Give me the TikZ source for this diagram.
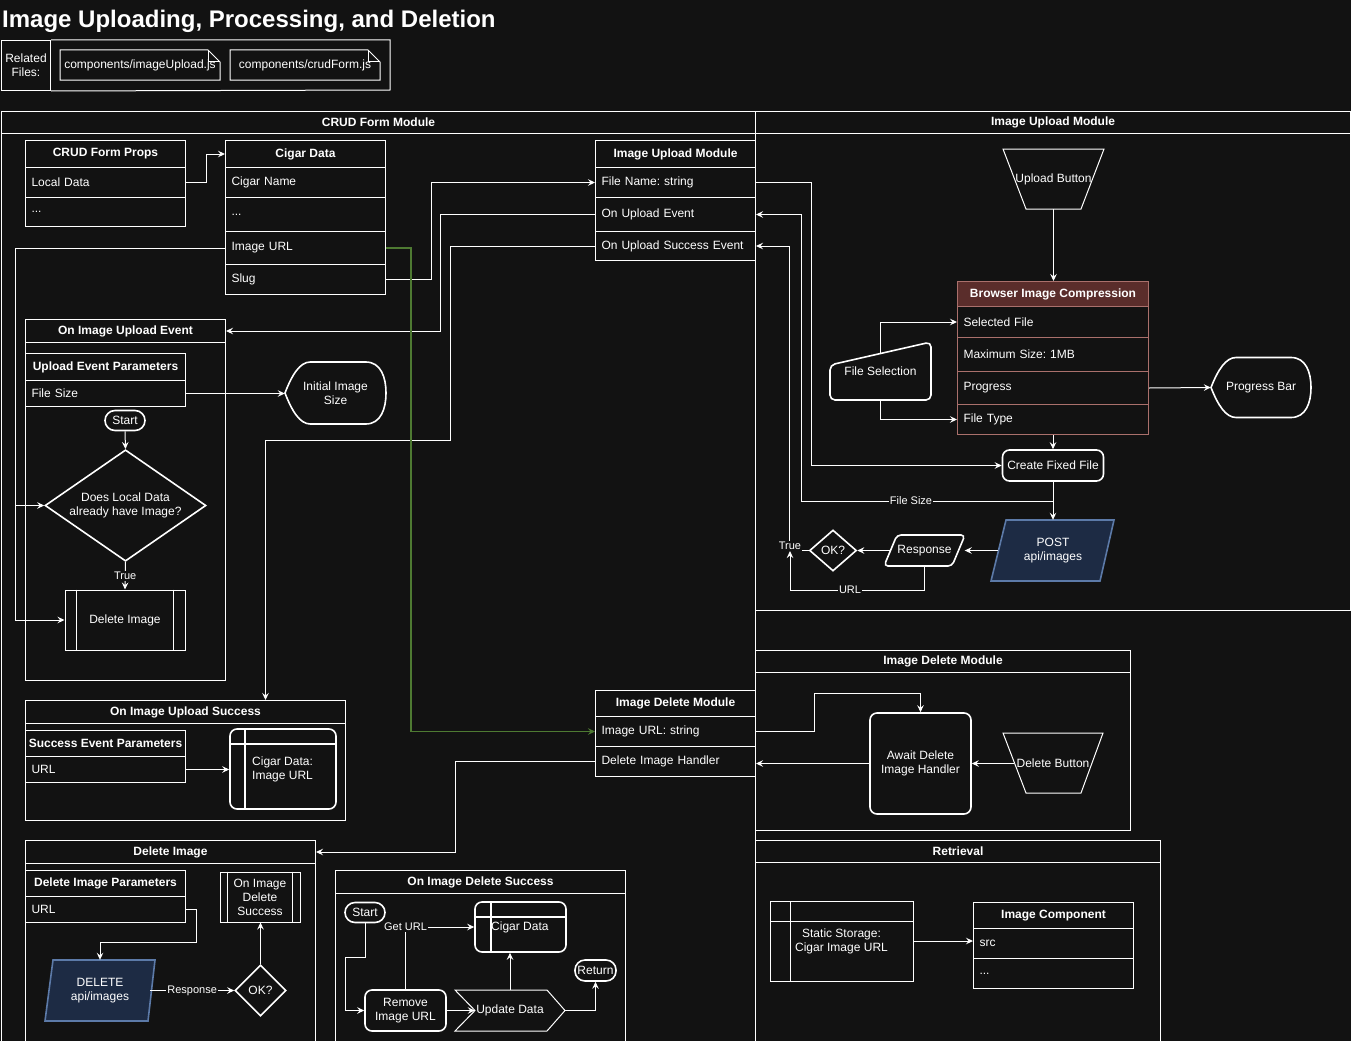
\documentclass[tikz,border=0pt]{standalone}
\usepackage{fontspec}
\setmainfont{Liberation Sans}
\usetikzlibrary{arrows.meta,shapes.geometric}
\frenchspacing
\definecolor{bgc}{RGB}{18,18,18}
\definecolor{bluefill}{RGB}{29,43,68}
\definecolor{bluestroke}{RGB}{92,122,168}
\definecolor{brownfill}{RGB}{90,45,43}
\definecolor{brownstroke}{RGB}{170,112,108}
\definecolor{greenline}{RGB}{78,122,50}
\newcommand{\dispsh}[4]{%
 \draw[draw=white, line width=1.6pt] (#1,#2+#4/2) .. controls (#1+0.07*#3,#2+0.2*#4) and (#1+0.15*#3,#2) .. (#1+0.25*#3,#2) -- (#1+0.8*#3,#2) .. controls (#1+0.95*#3,#2) and (#1+#3,#2+0.25*#4) .. (#1+#3,#2+#4/2) .. controls (#1+#3,#2+0.75*#4) and (#1+0.95*#3,#2+#4) .. (#1+0.8*#3,#2+#4) -- (#1+0.25*#3,#2+#4) .. controls (#1+0.15*#3,#2+#4) and (#1+0.07*#3,#2+0.8*#4) .. (#1,#2+#4/2) -- cycle;}
\tikzset{
 base/.style={font=\fontsize{12}{14}\selectfont, text=white},
 bbase/.style={font=\fontsize{12}{14}\selectfont\bfseries, text=white},
 ln/.style={draw=white, line width=1pt},
 arr/.style={draw=white, line width=1pt, -{Stealth[length=7pt,width=6.5pt,inset=2.5pt]}},
 rowc/.style={base, draw=white, line width=1pt, anchor=north west, inner sep=0pt, minimum width=160pt, text width=148pt, align=left},
 hcell/.style={bbase, draw=white, line width=1pt, anchor=north west, inner sep=0pt, minimum width=160pt, align=center},
 lanehdr/.style={bbase, draw=white, line width=1pt, anchor=north west, inner sep=0pt, minimum height=22pt},
 termn/.style={base, draw=white, line width=1.6pt, rounded corners=10pt, minimum width=40pt, minimum height=20pt, inner sep=0pt},
 dia/.style={base, diamond, draw=white, line width=1.6pt, inner sep=0pt, aspect=1.3, align=center},
 lbl/.style={font=\fontsize{11}{13}\selectfont, text=white, fill=bgc, inner sep=1pt},
 txt/.style={base, inner sep=0pt, align=center},
 rbox/.style={base, draw=white, line width=1.6pt, rounded corners=7pt, inner sep=0pt, align=center},
}
\begin{document}
\begin{tikzpicture}[x=1pt,y=-1pt]
\useasboundingbox (0,0) rectangle (1351,1041);
\fill[bgc] (0,0) rectangle (1351,1041);

% ---------- title ----------
\node[bbase, font=\fontsize{24}{28}\selectfont\bfseries, anchor=west, inner sep=0pt] (title) at (2,21) {Image Uploading, Processing, and Deletion};

% ---------- related files ----------
\node[base, draw=white, line width=1pt, anchor=north west, minimum width=49pt, minimum height=50pt, inner sep=0pt, align=center] (relLbl) at (1,40) {Related\\Files:};
\draw[ln] (relLbl.north east) -- (390,40) -- (390,90) -- (relLbl.south east);
\draw[ln] (60,50) -- (208,50) -- (220,62) -- (220,80) -- (60,80) -- cycle;
\draw[ln] (208,50) -- (208,62) -- (220,62);
\node[txt] (file1) at (140,65) {components/imageUpload.js};
\draw[ln] (230,50) -- (368,50) -- (380,62) -- (380,80) -- (230,80) -- cycle;
\draw[ln] (368,50) -- (368,62) -- (380,62);
\node[txt] (file2) at (305,65) {components/crudForm.js};

% ---------- lanes ----------
\node[lanehdr, minimum width=754pt] (crudHdr) at (1,111) {CRUD Form Module};
\draw[ln] (1,133) rectangle (755,1050);
\node[lanehdr, minimum width=595pt] (iuHdr) at (755,111) {Image Upload Module};
\draw[ln] (755,133) rectangle (1350,610);
\node[lanehdr, minimum width=375pt] (idHdr) at (755,650) {Image Delete Module};
\draw[ln] (755,672) rectangle (1130,830);
\node[lanehdr, minimum width=405pt] (retHdr) at (755,840) {Retrieval};
\draw[ln] (755,862) rectangle (1160,1050);

% ---------- containers ----------
\node[lanehdr, minimum width=200pt, minimum height=23pt] (oiueHdr) at (25,319) {On Image Upload Event};
\draw[ln] (25,342) rectangle (225,680);
\node[lanehdr, minimum width=320pt, minimum height=23pt] (oiusHdr) at (25,700) {On Image Upload Success};
\draw[ln] (25,723) rectangle (345,820);
\node[lanehdr, minimum width=290pt, minimum height=23pt] (diHdr) at (25,840) {Delete Image};
\draw[ln] (25,863) rectangle (315,1050);
\node[lanehdr, minimum width=290pt, minimum height=23pt] (oidsHdr) at (335,870) {On Image Delete Success};
\draw[ln] (335,893) rectangle (625,1050);

% ---------- tables ----------
\node[hcell, minimum height=27pt] (cfpHead) at (25,140) {CRUD Form Props};
\node[rowc, minimum height=30pt] (cfpLocal) at (25,167) {Local Data};
\node[rowc, minimum height=29pt] (cfpMore) at (25,197) {...};

\node[hcell, minimum height=27pt] (cdHead) at (225,140) {Cigar Data};
\node[rowc, minimum height=30pt] (cdName) at (225,167) {Cigar Name};
\node[rowc, minimum height=34pt] (cdMore) at (225,197) {...};
\node[rowc, minimum height=33pt] (cdImg) at (225,231) {Image URL};
\node[rowc, minimum height=30pt] (cdSlug) at (225,264) {Slug};

\node[hcell, minimum height=27pt] (iumHead) at (595,140) {Image Upload Module};
\node[rowc, minimum height=30pt] (iumFile) at (595,167) {File Name: string};
\node[rowc, minimum height=34pt] (iumEvent) at (595,197) {On Upload Event};
\node[rowc, minimum height=29pt] (iumSucc) at (595,231) {On Upload Success Event};

\node[hcell, minimum height=27pt] (uepHead) at (25,353) {Upload Event Parameters};
\node[rowc, minimum height=26pt] (uepSize) at (25,380) {File Size};

\node[hcell, minimum height=26pt] (sepHead) at (25,730) {Success Event Parameters};
\node[rowc, minimum height=26pt] (sepURL) at (25,756) {URL};

\node[hcell, minimum height=26pt] (dipHead) at (25,870) {Delete Image Parameters};
\node[rowc, minimum height=26pt] (dipURL) at (25,896) {URL};

\node[hcell, minimum height=26pt] (idmHead) at (595,690) {Image Delete Module};
\node[rowc, minimum height=30pt] (idmUrl) at (595,716) {Image URL: string};
\node[rowc, minimum height=30pt] (idmHandler) at (595,746) {Delete Image Handler};

\node[hcell, minimum height=26pt] (icHead) at (973,902) {Image Component};
\node[rowc, minimum height=30pt] (icSrc) at (973,928) {src};
\node[rowc, minimum height=30pt] (icMore) at (973,958) {...};

\node[hcell, draw=brownstroke, fill=brownfill, minimum width=191pt, minimum height=25pt] (bicHead) at (957,281) {Browser Image Compression};
\node[rowc, draw=brownstroke, minimum width=191pt, text width=179pt, minimum height=31pt] (bicSel) at (957,306) {Selected File};
\node[rowc, draw=brownstroke, minimum width=191pt, text width=179pt, minimum height=34pt] (bicMax) at (957,337) {Maximum Size: 1MB};
\node[rowc, draw=brownstroke, minimum width=191pt, text width=179pt, minimum height=33pt] (bicProg) at (957,371) {Progress};
\node[rowc, draw=brownstroke, minimum width=191pt, text width=179pt, minimum height=30pt] (bicType) at (957,404) {File Type};

% ---------- On Image Upload Event content ----------
\dispsh{285}{362}{101}{62}
\node[txt, minimum width=101pt, minimum height=62pt] (iis) at (335.5,393) {Initial Image\\Size};
\node[termn] (st1) at (125,420.5) {Start};
\node[dia, minimum width=161pt, minimum height=109pt] (dq) at (125.5,505.5) {Does Local Data\\already have Image?};
\node[base, draw=white, line width=1pt, minimum width=120pt, minimum height=60pt, inner sep=0pt] (delImg) at (125,620) {Delete Image};
\draw[ln] ([xshift=12pt]delImg.north west) -- ([xshift=12pt]delImg.south west);
\draw[ln] ([xshift=-12pt]delImg.north east) -- ([xshift=-12pt]delImg.south east);

% ---------- On Image Upload Success content ----------
\node[rbox, minimum width=106pt, minimum height=80pt] (cdStore) at (283,769) {};
\draw[draw=white, line width=1.6pt] (245,729) -- (245,809);
\draw[draw=white, line width=1.6pt] (230,744) -- (336,744);
\node[base, anchor=west, align=left, inner sep=0pt] (cdStoreTxt) at (252,769.5) {Cigar Data:\\Image URL};

% ---------- Delete Image content ----------
\draw[draw=bluestroke, fill=bluefill, line width=1.6pt] (53,960) -- (155,960) -- (148,1021) -- (45,1021) -- cycle;
\node[txt, minimum width=100pt, minimum height=61pt] (delApi) at (100,990.5) {DELETE\\api/images};
\node[dia, minimum width=51pt, minimum height=51pt, aspect=1] (ok2) at (260.5,990.5) {OK?};
\node[base, draw=white, line width=1pt, minimum width=80pt, minimum height=50pt, inner sep=0pt, align=center] (oidsProc) at (260,897) {On Image\\Delete\\Success};
\draw[ln] ([xshift=8pt]oidsProc.north west) -- ([xshift=8pt]oidsProc.south west);
\draw[ln] ([xshift=-8pt]oidsProc.north east) -- ([xshift=-8pt]oidsProc.south east);

% ---------- On Image Delete Success content ----------
\node[termn] (st2) at (365,912.5) {Start};
\node[rbox, minimum width=81pt, minimum height=41pt] (riu) at (405.5,1010.5) {Remove\\Image URL};
\node[rbox, minimum width=91pt, minimum height=50pt] (cd2) at (520.5,927) {};
\draw[draw=white, line width=1.6pt] (491,902) -- (491,952);
\draw[draw=white, line width=1.6pt] (475,917) -- (566,917);
\node[base, anchor=west, inner sep=0pt] (cd2Txt) at (491,927) {Cigar Data};
\draw[ln] (455,990) -- (547,990) -- (565,1010.5) -- (547,1031) -- (455,1031) -- (475,1010.5) -- cycle;
\node[txt, minimum width=110pt, minimum height=41pt] (upd) at (510,1010.5) {Update Data};
\node[termn, minimum width=41pt, minimum height=21pt] (ret) at (595.5,970.5) {Return};

% ---------- Image Delete Module content ----------
\node[rbox, minimum width=101pt, minimum height=101pt] (await) at (920.5,763.5) {Await Delete\\Image Handler};
\draw[ln] (1003,733) -- (1103,733) -- (1081,793) -- (1026,793) -- cycle;
\node[txt, minimum width=100pt, minimum height=60pt] (delBtn) at (1053,763.5) {Delete Button};

% ---------- Retrieval content ----------
\node[base, draw=white, line width=1pt, minimum width=143pt, minimum height=80pt, inner sep=0pt, align=center] (ss) at (841.5,941) {Static Storage:\\Cigar Image URL};
\draw[ln] (790,901) -- (790,981);
\draw[ln] (770,921) -- (913,921);

% ---------- Image Upload lane content ----------
\draw[ln] (1003,149) -- (1104,149) -- (1081,209) -- (1026,209) -- cycle;
\node[txt, minimum width=101pt, minimum height=60pt] (upBtn) at (1053.5,179) {Upload Button};
\draw[draw=white, line width=1.6pt, rounded corners=5pt] (830,365) -- (931,342) -- (931,400) -- (830,400) -- cycle;
\node[txt, minimum width=101pt, minimum height=58pt] (fsel) at (880.5,371) {File Selection};
\dispsh{1211}{357.5}{100}{60}
\node[txt, minimum width=100pt, minimum height=60pt] (pbar) at (1261,387.5) {Progress Bar};
\node[rbox, minimum width=101pt, minimum height=31pt] (cff) at (1053,465.5) {Create Fixed File};
\draw[draw=bluestroke, fill=bluefill, line width=1.6pt] (1006,520) -- (1114,520) -- (1100,581) -- (991,581) -- cycle;
\node[txt, minimum width=123pt, minimum height=61pt] (post) at (1053,550.5) {POST\\api/images};
\draw[draw=white, line width=1.6pt, rounded corners=4pt] (897,535) -- (965,535) -- (952,566) -- (884,566) -- cycle;
\node[txt, minimum width=80pt, minimum height=31pt] (resp) at (924.5,550.5) {Response};
\node[dia, minimum width=47pt, minimum height=41pt, aspect=1] (ok1) at (833,550.5) {OK?};

% ---------- connectors ----------
\draw[arr] (cfpLocal.east) -- ++(20,0) |- (cdHead.west);
\draw[arr] (cdSlug.east) -- ++(45,0) |- (iumFile.west);
\draw[arr] (iumEvent.west) -- ++(-155,0) |- (oiueHdr.east);
\draw[arr] (iumSucc.west) -- ++(-145,0) -- ++(0,194) -| ([xshift=80pt]oiusHdr.north);
\draw[arr] (cdImg.west) -- ++(-210,0) |- (dq.west);
\draw[arr] (cdImg.west) -- ++(-210,0) |- (delImg.west);
\draw[arr, draw=greenline, line width=1.8pt] (cdImg.east) -- ++(25,0) |- (idmUrl.west);
\draw[arr] (uepSize.east) -- (uepSize.east -| iis.west);
\draw[arr] (st1.south) -- (dq.north);
\draw[arr] (dq.south) -- node[lbl] (trueA) {True} (delImg.north);
\draw[arr] (sepURL.east) -- (sepURL.east -| cdStore.west);
\draw[arr] (idmHandler.west) -- ++(-140,0) |- (diHdr.east);
\draw[arr] (dipURL.east) -- ++(10,0) -- ++(0,33) -| (delApi.north);
\draw[arr] (delApi.east) -- node[lbl] (respLbl) {Response} (ok2.west);
\draw[arr] (ok2.north) -- (ok2.north |- oidsProc.south);
\draw[arr] (st2.south) -- ++(0,34) -- ++(-20,0) |- (riu.west);
\draw[arr] (riu.north) |- (cd2.west);
\node[lbl] (getUrl) at (riu.north |- cd2.west) {Get URL};
\draw[arr] (riu.east) -- ([xshift=20pt]upd.west);
\draw[arr] (upd.north) -- (upd.north |- cd2.south);
\draw[arr] (upd.east) -| (ret.south);
\draw[arr] (idmUrl.east) -- ++(58,0) -- ++(0,-38) -| (await.north);
\draw[arr] ([xshift=11pt]delBtn.west) -- (await.east);
\draw[arr] (await.west) -- (await.west -| idmHandler.east);
\draw[arr] (ss.east) -- (ss.east -| icSrc.west);
\draw[arr] (upBtn.south) -- (upBtn.south |- bicHead.north);
\draw[arr] ([yshift=-11.5pt]fsel.north) |- (bicSel.west);
\draw[arr] (fsel.south) |- (bicType.west);
\draw[arr] (bicProg.east) -- (pbar.west);
\draw[arr] (bicType.south) -- (bicType.south |- cff.north);
\draw[arr] (iumFile.east) -- ++(55,0) |- (cff.west);
\draw[arr] (cff.south) -- (post.north);
\draw[arr] (cff.south) -- ++(0,19.5) -| ([xshift=45pt]iumEvent.east) -- (iumEvent.east);
\node[lbl] (fsLbl) at (911,500.5) {File Size};
\draw[arr] ([xshift=7pt]post.west) -- (resp.east);
\draw[arr] ([xshift=6pt]resp.west) -- (ok1.east);
\draw[arr] (ok1.west) -- ++(-19.5,0) |- (iumSucc.east);
\node[lbl] (trueB) at (790,546) {True};
\draw[arr] (resp.south) -- ++(0,24) -| (trueB.south);
\node[lbl] (urlLbl) at (850,590) {URL};
\end{tikzpicture}
\end{document}
